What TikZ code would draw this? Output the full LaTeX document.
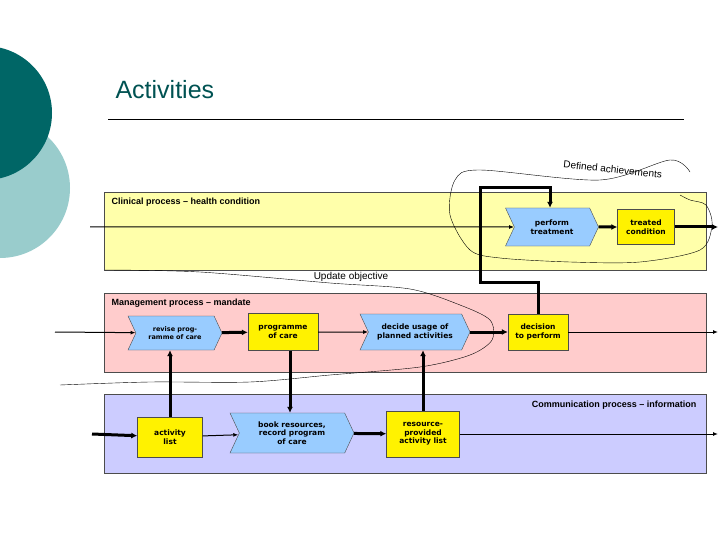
\documentclass[tikz,border=0pt]{standalone}
\usepackage{fontspec}
\setmainfont{Liberation Sans}
\newfontfamily\boxfont{DejaVu Sans}
\usetikzlibrary{shapes.symbols,positioning,arrows.meta}
\definecolor{teal1}{HTML}{006666}
\definecolor{teal2}{HTML}{99CCCC}
\definecolor{laneY}{HTML}{FFFFAA}
\definecolor{laneP}{HTML}{FFCCCC}
\definecolor{laneB}{HTML}{CCCCFF}
\definecolor{actB}{HTML}{99CCFF}
\tikzset{
	lane/.style={draw=black!70,line width=0.4pt},
	act/.style={signal,signal from=west,signal to=east,signal pointer angle=130,draw=black!70,fill=actB,
		font=\boxfont\bfseries\fontsize{7.5}{8.5}\selectfont,align=center,inner sep=1pt},
	state/.style={draw=black!70,fill=yellow,font=\boxfont\bfseries\fontsize{7.5}{8.5}\selectfont,align=center,inner sep=2pt},
	thin/.style={-{Latex[length=5pt,width=4pt]},line width=1pt},
	thick/.style={-{Latex[length=6pt,width=6pt]},line width=3pt}
}
\begin{document}
\begin{tikzpicture}[x=1pt,y=-1pt]
\useasboundingbox (0,0) rectangle (720,540);
% decoration
\fill[teal2] (0,188) circle (70);
\fill[teal1] (-15,113) circle (67);
\node[anchor=west,font=\fontsize{25}{28}\selectfont,text=teal1!80!black] at (112,90) {Activities};
\draw[line width=1pt] (108,120) -- (684,120);

% lanes
\draw[lane,fill=laneY] (104,192) rectangle (706,270);
\draw[lane,fill=laneP] (104,293) rectangle (706,372);
\draw[lane,fill=laneB] (104,394) rectangle (706,473);
\node[anchor=west,font=\bfseries\fontsize{9}{10}\selectfont] at (108,202) {Clinical process -- health condition};
\node[anchor=west,font=\bfseries\fontsize{9}{10}\selectfont] at (108,303) {Management process -- mandate};
\node[anchor=east,font=\bfseries\fontsize{9}{10}\selectfont] at (700,405) {Communication process -- information};

% nodes
\node[act,minimum width=93pt,minimum height=38pt] (perf) at (552,227) {perform\\treatment};
\node[state,minimum width=57pt,minimum height=35pt] (treat) at (646,227) {treated\\condition};
\node[act,minimum width=94pt,minimum height=34pt,font=\boxfont\bfseries\fontsize{6.5}{7.5}\selectfont] (revise) at (175,333) {revise prog-\\ramme of care};
\node[state,minimum width=70pt,minimum height=37pt] (prog) at (283,332) {programme\\of care};
\node[act,minimum width=110pt,minimum height=36pt] (decide) at (415,332) {decide usage of\\planned activities};
\node[state,minimum width=60pt,minimum height=36pt] (dec) at (538,332) {decision\\to perform};
\node[state,minimum width=65pt,minimum height=40pt] (alist) at (170,437) {activity\\list};
\node[act,minimum width=124pt,minimum height=40pt] (book) at (292,433) {book resources,\\record program\\of care};
\node[state,minimum width=73pt,minimum height=46pt] (rlist) at (423,434) {resource-\\provided\\activity list};

% free ends
\coordinate (inY) at (90,227);
\coordinate (outY) at (718,227);
\coordinate (inP) at (55,332);
\coordinate (outP) at (718,332);
\coordinate (inB) at (92,434);
\coordinate (outB) at (718,434);

% flow
\draw[thin] (inY) -- (perf);
\draw[thick] (perf) -- (treat);
\draw[thick] (treat) -- (outY);
\draw[thin] (inP) -- (revise);
\draw[thick] (revise) -- (prog);
\draw[thin] (prog) -- (decide);
\draw[thick] (decide) -- (dec);
\draw[thin] (dec) -- (outP);
\draw[thick] (inB) -- (alist);
\draw[thin] (alist) -- (book);
\draw[thick] (book) -- (rlist);
\draw[thin] (rlist) -- (outB);
\draw[thick] (alist.north) -- (revise.south -| alist.north);
\draw[thick] (prog.south -| 290,0) -- (book.north -| 290,0);
\draw[thick] (rlist.north) -- (decide.south -| rlist.north);
\draw[thick,-{Latex[length=6pt,width=6pt]}] (dec.north) |- (480,282) |- (550,188) -- (perf.north -| 550,0);

% freehand outlines
\draw[line width=0.4pt] plot[smooth] coordinates {(690,172) (670,160) (600,180) (480,170) (455,180) (450,215) (470,250) (500,258) (570,262) (640,262) (700,250) (712,225) (706,205) (690,200) (680,195)};
\node[rotate=-6,font=\fontsize{10}{11}\selectfont,anchor=west] at (560,164) {Defined achievements};
\draw[line width=0.4pt] plot[smooth] coordinates {(105,270) (200,272) (330,283) (410,289) (460,305) (490,320) (492,340) (470,355) (420,367) (330,375) (250,382) (150,382) (60,385)};
\node[font=\fontsize{10}{11}\selectfont] at (351,277) {Update objective};
\end{tikzpicture}
\end{document}
